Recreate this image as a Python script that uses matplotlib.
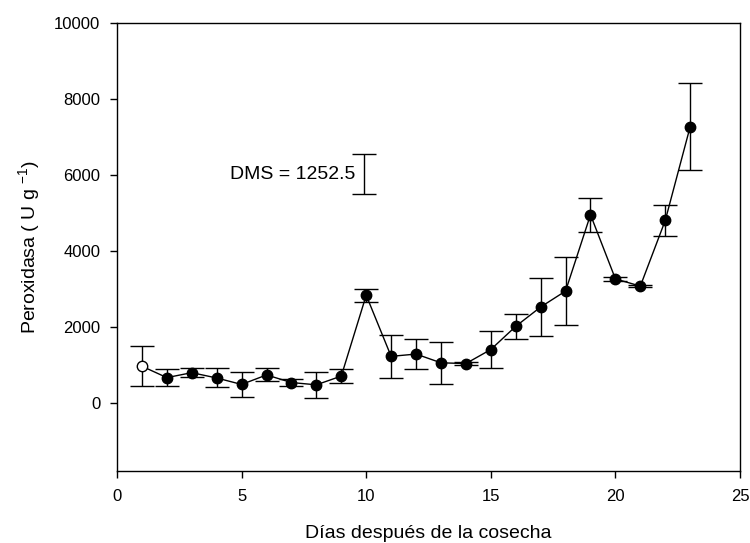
import numpy as np
import matplotlib.pyplot as plt

plt.rcParams['font.family'] = ['Liberation Sans', 'DejaVu Sans']
plt.rcParams['mathtext.default'] = 'regular'

# dias despues de la cosecha
dias = [1, 2, 3, 4, 5, 6, 7, 8, 9, 10, 11, 12, 13, 14, 15, 16, 17, 18, 19, 20, 21, 22, 23]
peroxidasa = [960, 660, 790, 650, 480, 730, 530, 470, 700, 2830, 1220, 1280, 1050, 1030,
              1400, 2010, 2520, 2940, 4950, 3260, 3070, 4800, 7270]
error = [520, 220, 120, 250, 340, 170, 100, 350, 190, 170, 570, 400, 560, 50,
         490, 330, 760, 890, 450, 60, 30, 400, 1140]

dms_label = 'DMS = 1252.5'
dms_x = 9.9
dms_y = 6020
dms_err = 520

fig = plt.figure(figsize=(7.5, 5.43), dpi=100)
ax = fig.add_axes([0.156, 0.1326, 0.8307, 0.825])

x = np.array(dias)
y = np.array(peroxidasa)
e = np.array(error)

ax.plot(x, y, color='black', lw=1.0, zorder=2)
ax.errorbar(x, y, yerr=e, fmt='none', ecolor='black', elinewidth=1.0,
            capsize=8.5, capthick=1.0, zorder=1)
# primer dia con circulo abierto
ax.plot(x[:1], y[:1], 'o', ms=7.5, mfc='white', mec='black', mew=1.0, zorder=3)
ax.plot(x[1:], y[1:], 'o', ms=7.5, mfc='black', mec='black', zorder=3)

# barra DMS
ax.errorbar([dms_x], [dms_y], yerr=[dms_err], fmt='none', ecolor='black',
            elinewidth=1.0, capsize=8.5, capthick=1.0)
ax.text(dms_x - 0.35, dms_y, dms_label, ha='right', va='center', fontsize=14)

ax.set_xlim(0, 25)
ax.set_ylim(-1800, 10000)
ax.set_xticks([0, 5, 10, 15, 20, 25])
ax.set_yticks([0, 2000, 4000, 6000, 8000, 10000])
ax.tick_params(direction='out', length=5, width=1.0, labelsize=12)
ax.tick_params(axis='x', pad=8)
ax.tick_params(axis='y', pad=7)
for s in ax.spines.values():
    s.set_linewidth(1.0)

ax.set_xlabel('Días después de la cosecha', fontsize=14, labelpad=15)
ax.set_ylabel('Peroxidasa ( U g $^{-1}$)', fontsize=14, labelpad=9)

fig.savefig('out.png', dpi=100)
